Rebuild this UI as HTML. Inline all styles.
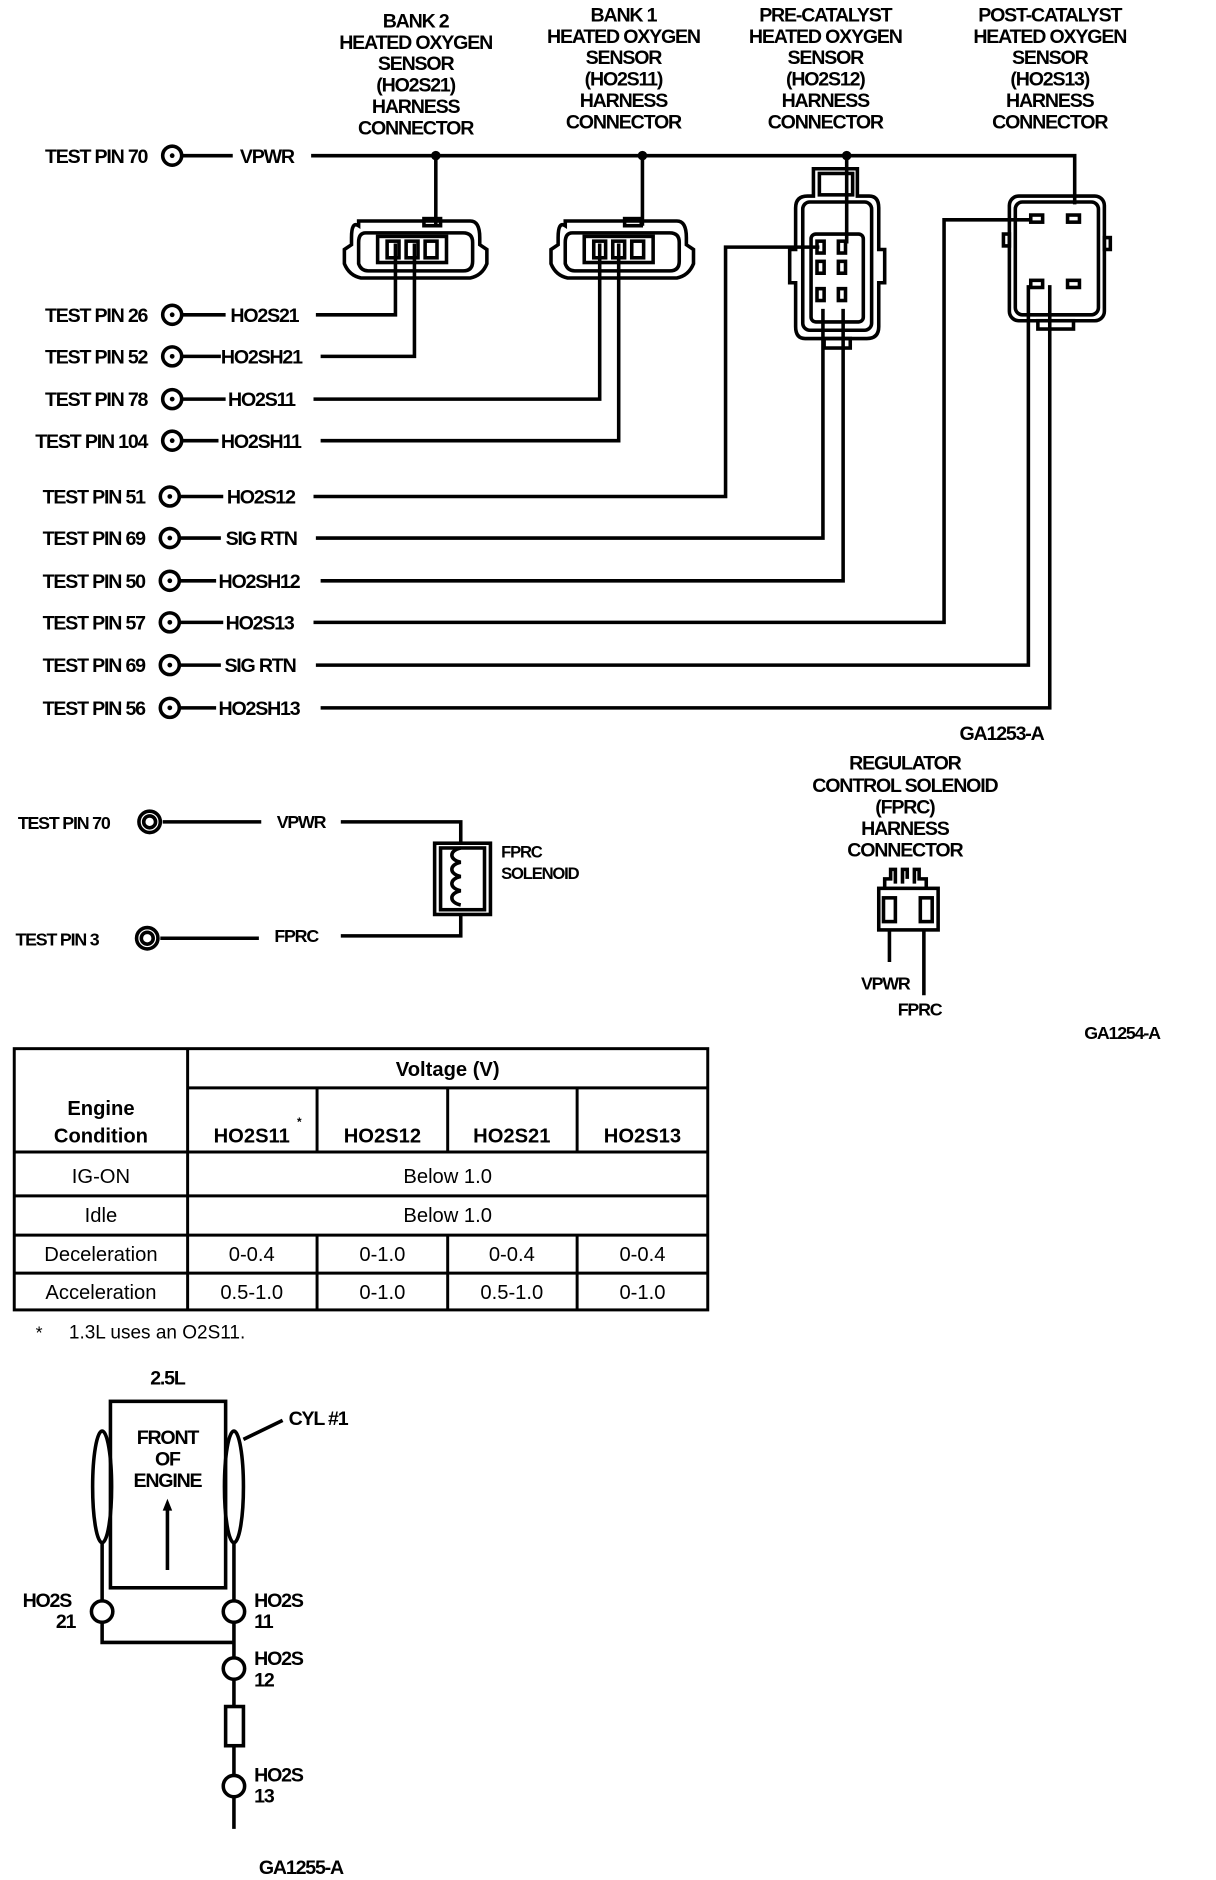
<!DOCTYPE html>
<html><head><meta charset="utf-8"><style>
html,body{margin:0;padding:0;background:#fff;}
svg{display:block}
text{font-family:"Liberation Sans",sans-serif;font-weight:bold;fill:#000}
.h{font-size:16.5px;letter-spacing:-1px;text-anchor:middle}
.p{font-size:16.5px;letter-spacing:-1px}
.t{font-size:17px;font-weight:normal;text-anchor:middle}
.tb{font-size:17px;text-anchor:middle}
</style></head><body>
<svg width="1216" height="1880" viewBox="0 0 1024 1583" xmlns="http://www.w3.org/2000/svg">
<g class="h">
<text class="h" x="350" y="23">BANK 2</text><text class="h" x="350" y="41">HEATED OXYGEN</text><text class="h" x="350" y="59">SENSOR</text><text class="h" x="350" y="77">(HO2S21)</text><text class="h" x="350" y="95">HARNESS</text><text class="h" x="350" y="113">CONNECTOR</text>
<text class="h" x="525" y="18">BANK 1</text><text class="h" x="525" y="36">HEATED OXYGEN</text><text class="h" x="525" y="54">SENSOR</text><text class="h" x="525" y="72">(HO2S11)</text><text class="h" x="525" y="90">HARNESS</text><text class="h" x="525" y="108">CONNECTOR</text>
<text class="h" x="695" y="18">PRE-CATALYST</text><text class="h" x="695" y="36">HEATED OXYGEN</text><text class="h" x="695" y="54">SENSOR</text><text class="h" x="695" y="72">(HO2S12)</text><text class="h" x="695" y="90">HARNESS</text><text class="h" x="695" y="108">CONNECTOR</text>
<text class="h" x="884" y="18">POST-CATALYST</text><text class="h" x="884" y="36">HEATED OXYGEN</text><text class="h" x="884" y="54">SENSOR</text><text class="h" x="884" y="72">(HO2S13)</text><text class="h" x="884" y="90">HARNESS</text><text class="h" x="884" y="108">CONNECTOR</text>
</g>
<g class="p">
<text class="p" x="124" y="137" text-anchor="end">TEST PIN 70</text>
<text class="p" x="124" y="271" text-anchor="end">TEST PIN 26</text>
<text class="p" x="124" y="306" text-anchor="end">TEST PIN 52</text>
<text class="p" x="124" y="342" text-anchor="end">TEST PIN 78</text>
<text class="p" x="124" y="377" text-anchor="end">TEST PIN 104</text>
<text class="p" x="122" y="424" text-anchor="end">TEST PIN 51</text>
<text class="p" x="122" y="459" text-anchor="end">TEST PIN 69</text>
<text class="p" x="122" y="495" text-anchor="end">TEST PIN 50</text>
<text class="p" x="122" y="530" text-anchor="end">TEST PIN 57</text>
<text class="p" x="122" y="566" text-anchor="end">TEST PIN 69</text>
<text class="p" x="122" y="602" text-anchor="end">TEST PIN 56</text>
<text class="p" x="202" y="137">VPWR</text>
<text class="p" x="194" y="271">HO2S21</text>
<text class="p" x="186" y="306">HO2SH21</text>
<text class="p" x="192" y="342">HO2S11</text>
<text class="p" x="186" y="377">HO2SH11</text>
<text class="p" x="191" y="424">HO2S12</text>
<text class="p" x="190" y="459">SIG RTN</text>
<text class="p" x="184" y="495">HO2SH12</text>
<text class="p" x="190" y="530">HO2S13</text>
<text class="p" x="189" y="566">SIG RTN</text>
<text class="p" x="184" y="602">HO2SH13</text>
<text class="p" x="808" y="623">GA1253-A</text>
</g>
<g fill="none" stroke="#000" stroke-width="3">
<circle cx="145" cy="131" r="8"/><circle cx="145" cy="265" r="8"/><circle cx="145" cy="300" r="8"/><circle cx="145" cy="336" r="8"/><circle cx="145" cy="371" r="8"/>
<circle cx="143" cy="418" r="8"/><circle cx="143" cy="453" r="8"/><circle cx="143" cy="489" r="8"/><circle cx="143" cy="524" r="8"/><circle cx="143" cy="560" r="8"/><circle cx="143" cy="596" r="8"/>
<path d="M153 131H196M153 265H190M153 300H186M153 336H190M153 371H184M151 418H188M151 453H186M151 489H182M151 524H188M151 560H186M151 596H182"/>
<path d="M262 131H905V172"/>
<path d="M367 131V190M541 131V190M713 131V205"/>
<path d="M266 265H333V205M270 300H349V205M264 336H505V205M270 371H521V205M264 418H611V208H690M266 453H693V260M270 489H710V260M264 524H795V185H868M266 560H866V240M270 596H884V240"/>
<path d="M302 190Q296 186 296 200V206L290 210V222Q294 232 304 234H396Q406 232 410 222V210L404 206V200Q404 186 396 186H302Z"/>
<path d="M308 196Q302 196 302 204V222Q304 228 310 228H390Q398 228 398 220V204Q398 196 390 196Z"/>
<rect x="318" y="199" width="58" height="22"/><rect x="357" y="184" width="14" height="6"/>
<rect x="326" y="203" width="10" height="14"/><rect x="342" y="203" width="10" height="14"/><rect x="358" y="203" width="10" height="14"/>
<path d="M476 190Q470 186 470 200V206L464 210V222Q468 232 478 234H570Q580 232 584 222V210L578 206V200Q578 186 570 186H476Z"/>
<path d="M482 196Q476 196 476 204V222Q478 228 484 228H564Q572 228 572 220V204Q572 196 564 196Z"/>
<rect x="492" y="199" width="58" height="22"/><rect x="526" y="184" width="14" height="6"/>
<rect x="500" y="203" width="10" height="14"/><rect x="516" y="203" width="10" height="14"/><rect x="532" y="203" width="10" height="14"/>
<path d="M685 142H722V165H732Q740 165 740 175V210H745V238H740V275Q740 285 730 285H678Q670 285 670 275V238H665V210H670V175Q670 165 680 165H685Z"/>
<rect x="690" y="146" width="28" height="18"/>
<rect x="676" y="170" width="58" height="108" rx="6"/>
<rect x="683" y="197" width="44" height="74" rx="4"/>
<rect x="688" y="203" width="6" height="10"/><rect x="706" y="203" width="6" height="10"/>
<rect x="688" y="220" width="6" height="10"/><rect x="706" y="220" width="6" height="10"/>
<rect x="688" y="243" width="6" height="10"/><rect x="706" y="243" width="6" height="10"/>
<rect x="694" y="285" width="22" height="8"/>
<rect x="850" y="165" width="80" height="105" rx="8"/>
<rect x="855" y="170" width="70" height="95" rx="6"/>
<rect x="845" y="197" width="5" height="10"/><rect x="930" y="200" width="5" height="10"/>
<rect x="874" y="270" width="30" height="7"/>
<rect x="868" y="181" width="10" height="6"/><rect x="899" y="181" width="10" height="6"/>
<rect x="868" y="236" width="10" height="6"/><rect x="899" y="236" width="10" height="6"/>
</g>
<g fill="#000">
<circle cx="367" cy="131" r="4"/><circle cx="541" cy="131" r="4"/><circle cx="713" cy="131" r="4"/>
<circle cx="145" cy="131" r="2"/><circle cx="145" cy="265" r="2"/><circle cx="145" cy="300" r="2"/><circle cx="145" cy="336" r="2"/><circle cx="145" cy="371" r="2"/>
<circle cx="143" cy="418" r="2"/><circle cx="143" cy="453" r="2"/><circle cx="143" cy="489" r="2"/><circle cx="143" cy="524" r="2"/><circle cx="143" cy="560" r="2"/><circle cx="143" cy="596" r="2"/>
</g>
<g class="p" style="font-size:15px">
<text x="15" y="698" style="font-size:15px;letter-spacing:-1px">TEST PIN 70</text>
<text x="13" y="796" style="font-size:15px;letter-spacing:-1px">TEST PIN 3</text>
<text x="233" y="697" style="font-size:15px;letter-spacing:-1px">VPWR</text>
<text x="231" y="793" style="font-size:15px;letter-spacing:-1px">FPRC</text>
<text x="422" y="722" style="font-size:14px;letter-spacing:-1px">FPRC</text>
<text x="422" y="740" style="font-size:14px;letter-spacing:-1px">SOLENOID</text>
<text class="h" x="762" y="648">REGULATOR</text>
<text class="h" x="762" y="667">CONTROL SOLENOID</text>
<text class="h" x="762" y="685">(FPRC)</text>
<text class="h" x="762" y="703">HARNESS</text>
<text class="h" x="762" y="721">CONNECTOR</text>
<text x="725" y="833" style="font-size:15px;letter-spacing:-1px">VPWR</text>
<text x="756" y="855" style="font-size:15px;letter-spacing:-1px">FPRC</text>
<text x="913" y="875" style="font-size:15px;letter-spacing:-1px">GA1254-A</text>
</g>
<g fill="none" stroke="#000" stroke-width="3">
<circle cx="126" cy="692" r="9"/><circle cx="126" cy="692" r="5"/>
<circle cx="124" cy="790" r="9"/><circle cx="124" cy="790" r="5"/>
<path d="M137 692H220M135 790H218M287 692H388V710M287 788H388V770"/>
<rect x="366" y="710" width="47" height="60"/><rect x="371" y="714" width="37" height="52"/>
<path d="M388 714c-10 2-10 10 0 12c-10 2-10 10 0 12c-10 2-10 10 0 12c-10 2-10 10 0 12"/>
<path d="M745 748V740H750V732H754V744M760 744V732H764V740M770 744V732H774V740H780V748"/>
<rect x="740" y="748" width="50" height="35"/>
<rect x="744" y="756" width="10" height="20"/><rect x="775" y="756" width="10" height="20"/>
<path d="M749 783V810M778 783V838"/>
</g>
<g fill="none" stroke="#000" stroke-width="2.5">
<rect x="12" y="883" width="584" height="220"/>
<path d="M158 883V1103M158 916H596M267 916V970M377 916V970M486 916V970M12 970H596M12 1007H596M12 1040H596M12 1072H596M267 1040V1103M377 1040V1103M486 1040V1103"/>
</g>
<text class="tb" x="377" y="906">Voltage (V)</text>
<text class="tb" x="85" y="939">Engine</text>
<text class="tb" x="85" y="962">Condition</text>
<text class="tb" x="212" y="962">HO2S11</text><text class="tb" x="252" y="948" style="font-size:10px">*</text>
<text class="tb" x="322" y="962">HO2S12</text>
<text class="tb" x="431" y="962">HO2S21</text>
<text class="tb" x="541" y="962">HO2S13</text>
<text class="t" x="85" y="996">IG-ON</text><text class="t" x="377" y="996">Below 1.0</text>
<text class="t" x="85" y="1029">Idle</text><text class="t" x="377" y="1029">Below 1.0</text>
<text class="t" x="85" y="1062">Deceleration</text><text class="t" x="212" y="1062">0-0.4</text><text class="t" x="322" y="1062">0-1.0</text><text class="t" x="431" y="1062">0-0.4</text><text class="t" x="541" y="1062">0-0.4</text>
<text class="t" x="85" y="1094">Acceleration</text><text class="t" x="212" y="1094">0.5-1.0</text><text class="t" x="322" y="1094">0-1.0</text><text class="t" x="431" y="1094">0.5-1.0</text><text class="t" x="541" y="1094">0-1.0</text>
<text x="30" y="1127" style="font-size:15px;font-weight:normal">*</text>
<text x="58" y="1127" style="font-size:16px;font-weight:normal">1.3L uses an O2S11.</text>
<g class="p">
<text class="h" x="141" y="1166">2.5L</text>
<text class="h" x="141" y="1216">FRONT</text><text class="h" x="141" y="1234">OF</text><text class="h" x="141" y="1252">ENGINE</text>
<text class="p" x="243" y="1200">CYL #1</text>
<text class="p" x="19" y="1353">HO2S</text><text class="p" x="47" y="1371">21</text>
<text class="p" x="214" y="1353">HO2S</text><text class="p" x="214" y="1371">11</text>
<text class="p" x="214" y="1402">HO2S</text><text class="p" x="214" y="1420">12</text>
<text class="p" x="214" y="1500">HO2S</text><text class="p" x="214" y="1518">13</text>
<text class="p" x="218" y="1578">GA1255-A</text>
</g>
<g fill="none" stroke="#000" stroke-width="3">
<rect x="93" y="1180" width="97" height="157"/>
<ellipse cx="86" cy="1252" rx="8" ry="47"/><ellipse cx="197" cy="1252" rx="8" ry="47"/>
<path d="M86 1299V1348M197 1299V1348M86 1366V1383H197M197 1366V1396M197 1414V1437M197 1470V1495M197 1513V1540M141 1322V1270M205 1212L238 1196"/>
<circle cx="86" cy="1357" r="9"/><circle cx="197" cy="1357" r="9"/><circle cx="197" cy="1405" r="9"/><circle cx="197" cy="1504" r="9"/>
<rect x="190" y="1437" width="15" height="33"/>
</g>
<path d="M141 1262l-4 10h8z" fill="#000"/>
</svg>
</body></html>
